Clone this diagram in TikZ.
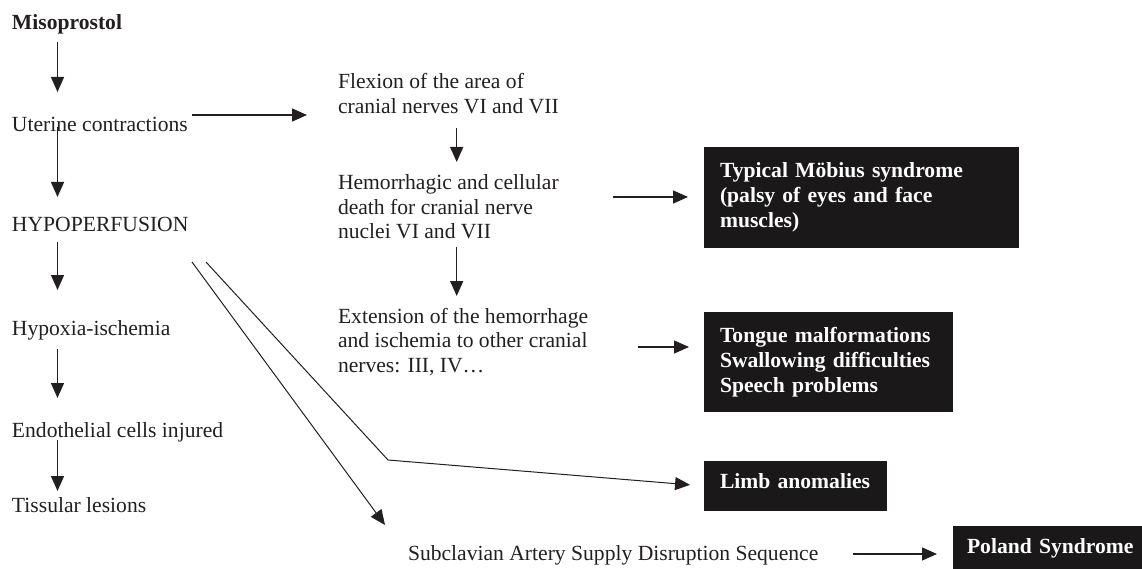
\documentclass[tikz,border=0pt]{standalone}
\usepackage{fontspec}
\setmainfont{Liberation Serif}
\usetikzlibrary{arrows.meta,calc}
\definecolor{ink}{RGB}{35,31,32}
\definecolor{boxfill}{RGB}{26,24,25}
\newcommand{\mylines}[1]{\begin{tabular}[t]{@{}l@{}}#1\end{tabular}}
\begin{document}
\begin{tikzpicture}[x=1pt,y=-1pt,
  every node/.style={inner sep=0pt, outer sep=0pt, text=ink,
    font=\fontsize{21.6}{24.5}\selectfont},
  lbl/.style={anchor=base west},
  blackbox/.style={fill=boxfill, text=white, anchor=north west, align=left,
    font=\fontsize{21.6}{25}\selectfont\bfseries, inner xsep=16pt, inner ysep=0pt},
  tip/.style={-{Triangle[length=15pt,width=13pt]}},
  arr/.style={draw=ink, line width=1.4pt, tip},
  diag/.style={draw=ink, line width=1pt}
]
\useasboundingbox (0,0) rectangle (1142,569);

% left column
\node[lbl, font=\fontsize{21.6}{24.5}\selectfont\bfseries] (miso) at (12,30) {Misoprostol};
\node[lbl] (uter)  at (12,132) {Uterine contractions};
\node[lbl] (hypo)  at (12,232) {HYPOPERFUSION};
\node[lbl] (hypox) at (12,335) {Hypoxia-ischemia};
\node[lbl] (endo)  at (12,437) {Endothelial cells injured};
\node[lbl] (tiss)  at (12,512) {Tissular lesions};

% middle column
\node[lbl] (flex) at (338,89) {\mylines{Flexion of the area of\\cranial nerves VI and VII}};
\node[lbl] (hemo) at (338,190) {\mylines{Hemorrhagic and cellular\\death for cranial nerve\\nuclei VI and VII}};
\node[lbl] (ext)  at (338,323) {\mylines{Extension of the hemorrhage\\and ischemia to other cranial\\nerves: III, IV\ldots}};
\node[lbl] (subc) at (408,560) {Subclavian Artery Supply Disruption Sequence};

% black boxes
\node[blackbox, minimum width=315pt, minimum height=101pt, text width=283pt] (moeb) at (704,147)
  {Typical Möbius syndrome\\(palsy of eyes and face\\muscles)};
\node[blackbox, minimum width=249pt, minimum height=100pt, text width=217pt] (tong) at (704,312)
  {Tongue malformations\\Swallowing difficulties\\Speech problems};
\node[blackbox, minimum width=183pt, minimum height=50pt, text width=151pt, text depth=10pt] (limb) at (704,461)
  {Limb anomalies};
\node[blackbox, minimum width=200pt, minimum height=44pt, text width=172pt, inner xsep=14pt] (pol) at (953,526)
  {Poland Syndrome};

% column x
\coordinate (lx) at (57.5,0);
\coordinate (mx) at (456.7,0);

% left column arrows
\draw[arr] ($(miso.base -| lx)+(0,12)$) -- ($(uter.base -| lx)+(0,-40)$);
\draw[arr] ($(uter.base -| lx)+(0,-5)$) -- ($(hypo.base -| lx)+(0,-35)$);
\draw[arr] ($(hypo.base -| lx)+(0,10)$) -- ($(hypox.base -| lx)+(0,-45)$);
\draw[arr] ($(hypox.base -| lx)+(0,14)$) -- ($(endo.base -| lx)+(0,-39)$);
\draw[arr] ($(endo.base -| lx)+(0,3)$) -- ($(tiss.base -| lx)+(0,-21)$);

% uterine -> flexion
\coordinate (u1) at ($(uter.base east)+(4,-17)$);
\draw[arr, shorten >=31pt] (u1) -- (u1 -| flex.west);

% middle column arrows
\draw[arr] ($(flex.base -| mx)+(0,39)$) -- ($(hemo.base -| mx)+(0,-28)$);
\draw[arr] ($(hemo.base -| mx)+(0,57)$) -- ($(ext.base -| mx)+(0,-27)$);

% to boxes
\coordinate (h1) at ($(hemo.base west)+(275,7)$);
\draw[arr, shorten >=16pt] (h1) -- (h1 -| moeb.west);
\coordinate (e1) at ($(ext.base west)+(300,24)$);
\draw[arr, shorten >=15pt] (e1) -- (e1 -| tong.west);

% hypoperfusion diagonals
\coordinate (bend) at (388,460);
\draw[diag, tip] ($(hypo.base west)+(180,30)$) -- ($(subc.base west)+(-23,-35)$);
\draw[diag, tip, shorten >=14pt] ($(hypo.base west)+(194,30)$) -- (bend) -- (limb.west);

% subclavian -> poland
\coordinate (s1) at ($(subc.base west)+(445,-6)$);
\draw[arr, shorten >=16pt] (s1) -- (s1 -| pol.west);
\end{tikzpicture}
\end{document}
